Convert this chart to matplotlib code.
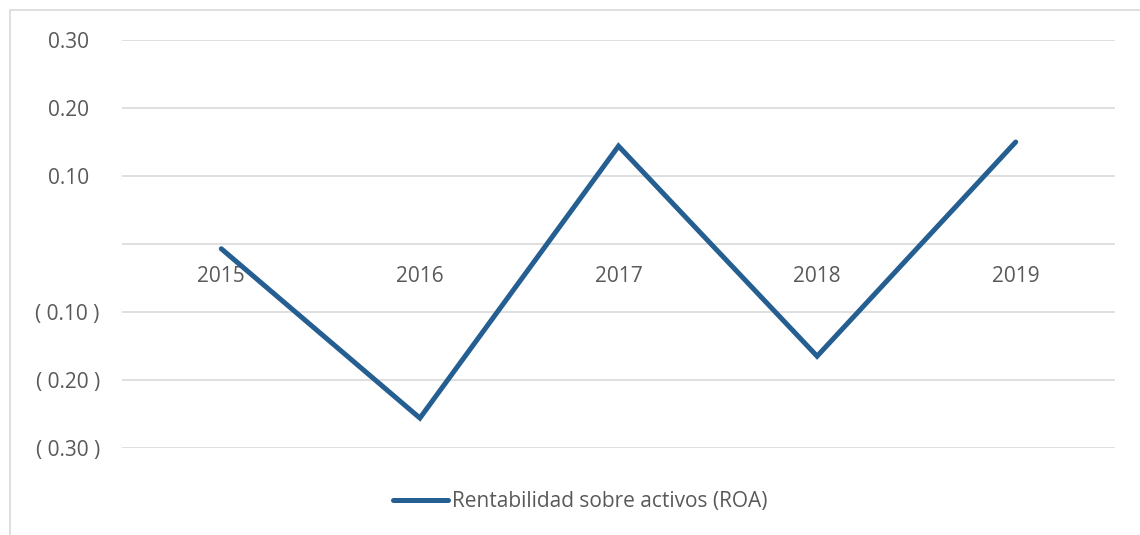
import matplotlib.pyplot as plt
from matplotlib.patches import Rectangle

# ROA by year
years = ["2015", "2016", "2017", "2018", "2019"]
roa = [-0.007, -0.256, 0.144, -0.165, 0.150]
y_ticks = [-0.30, -0.20, -0.10, 0.0, 0.10, 0.20, 0.30]
series_name = "Rentabilidad sobre activos (ROA)"

LINE_COLOR = "#255E91"
GRID_COLOR = "#D9D9D9"
TEXT_COLOR = "#595959"
FS = 15


def fmt_tick(v):
    # Excel-style accounting format: blank zero, negatives in parentheses
    if abs(v) < 1e-9:
        return ""
    if v < 0:
        return f"( {abs(v):.2f} )"
    return f"{v:.2f}  "


plt.rcParams["font.family"] = ["Open Sans", "DejaVu Sans"]

fig = plt.figure(figsize=(11.4, 5.35), dpi=100)
ax = fig.add_axes([122 / 1140, 1 - 448 / 535, (1115 - 122) / 1140, 408 / 535])

x = list(range(len(years)))
line, = ax.plot(x, roa, color=LINE_COLOR, linewidth=3.6,
                solid_capstyle="round", solid_joinstyle="miter",
                label=series_name)

ax.set_xlim(-0.5, len(years) - 0.5)
ax.set_ylim(-0.30, 0.30)

ax.set_yticks(y_ticks)
ax.set_yticklabels([fmt_tick(v) for v in y_ticks])
ax.grid(axis="y", color=GRID_COLOR, linewidth=1.2)
ax.set_axisbelow(True)

# category labels sit under the zero line
ax.spines["bottom"].set_position(("data", 0))
for s in ["top", "right", "left", "bottom"]:
    ax.spines[s].set_visible(False)
ax.set_xticks(x)
ax.set_xticklabels(years)
ax.tick_params(axis="x", length=0, pad=16, labelsize=FS, labelcolor=TEXT_COLOR)
ax.tick_params(axis="y", length=0, pad=16, labelsize=FS, labelcolor=TEXT_COLOR)

fig.legend(handles=[line], loc="center", bbox_to_anchor=(580 / 1140, 1 - 502 / 535),
           frameon=False, fontsize=FS, labelcolor=TEXT_COLOR,
           handlelength=2.65, handletextpad=0.2)

# chart frame, clipped at the right and bottom of the image
fig.patches.append(Rectangle((10 / 1140, -0.2), 1.2, 1.2 - 10 / 535,
                             transform=fig.transFigure, fill=False,
                             edgecolor=GRID_COLOR, linewidth=1.2))

fig.savefig("out.png", dpi=100)
